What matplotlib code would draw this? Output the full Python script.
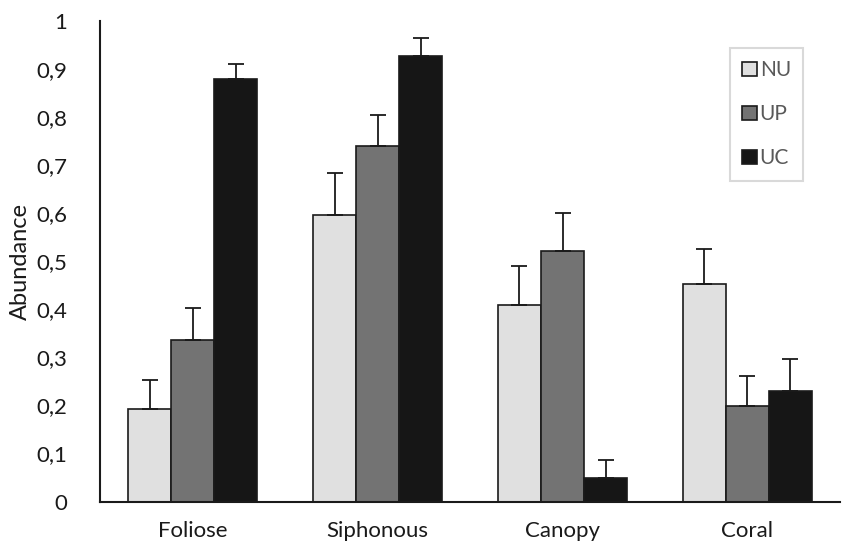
import numpy as np
import matplotlib.pyplot as plt
from matplotlib.ticker import FuncFormatter

plt.rcParams['font.family'] = ['Lato', 'DejaVu Sans']

categories = ['Foliose', 'Siphonous', 'Canopy', 'Coral']
series = ['NU', 'UP', 'UC']
nu = [0.192, 0.596, 0.409, 0.453]
up = [0.335, 0.740, 0.522, 0.198]
uc = [0.878, 0.927, 0.050, 0.230]
nu_err = [0.060, 0.087, 0.080, 0.072]
up_err = [0.068, 0.064, 0.079, 0.063]
uc_err = [0.031, 0.038, 0.037, 0.067]

colors = ['#e0e0e0', '#737373', '#161616']

fig = plt.figure(figsize=(8.44, 5.44), dpi=100)
ax = fig.add_axes([0.119, 0.078, 0.876, 0.884])

x = np.arange(len(categories))
w = 0.233
vals = [nu, up, uc]
errs = [nu_err, up_err, uc_err]
for k in range(3):
    ax.bar(x + (k - 1) * w, vals[k], w, color=colors[k],
           edgecolor='#1a1a1a', linewidth=1.2, label=series[k], zorder=2)
    ax.errorbar(x + (k - 1) * w, vals[k], yerr=[np.zeros(4), errs[k]],
                fmt='none', ecolor='#1a1a1a', elinewidth=1.3,
                capsize=6, capthick=1.3, zorder=3)

ax.set_xlim(-0.5, 3.5)
ax.set_ylim(0, 1)
ax.set_yticks(np.arange(0, 1.01, 0.1))
ax.yaxis.set_major_formatter(FuncFormatter(
    lambda v, p: '0' if v == 0 else ('1' if abs(v - 1) < 1e-9 else f'{v:.1f}'.replace('.', ','))))
ax.set_xticks(x)
ax.set_xticklabels(categories)
ax.tick_params(axis='both', length=0, labelsize=16, colors='#1a1a1a')
ax.tick_params(axis='y', pad=24)
ax.tick_params(axis='x', pad=14)
ax.set_ylabel('Abundance', fontsize=17, color='#1a1a1a', labelpad=4)

for s in ['top', 'right']:
    ax.spines[s].set_visible(False)
for s in ['left', 'bottom']:
    ax.spines[s].set_linewidth(1.5)
    ax.spines[s].set_color('#1a1a1a')

leg = fig.legend(loc='upper right', bbox_to_anchor=(0.952, 0.912), frameon=True,
                 fancybox=False, handlelength=0.7, handleheight=0.7,
                 labelspacing=1.15, handletextpad=0.15, borderpad=0.6,
                 borderaxespad=0, fontsize=15, labelcolor='#595959')
leg.get_frame().set_edgecolor('#d0d0d0')
leg.get_frame().set_linewidth(1.5)

fig.savefig('out.png', dpi=100)
